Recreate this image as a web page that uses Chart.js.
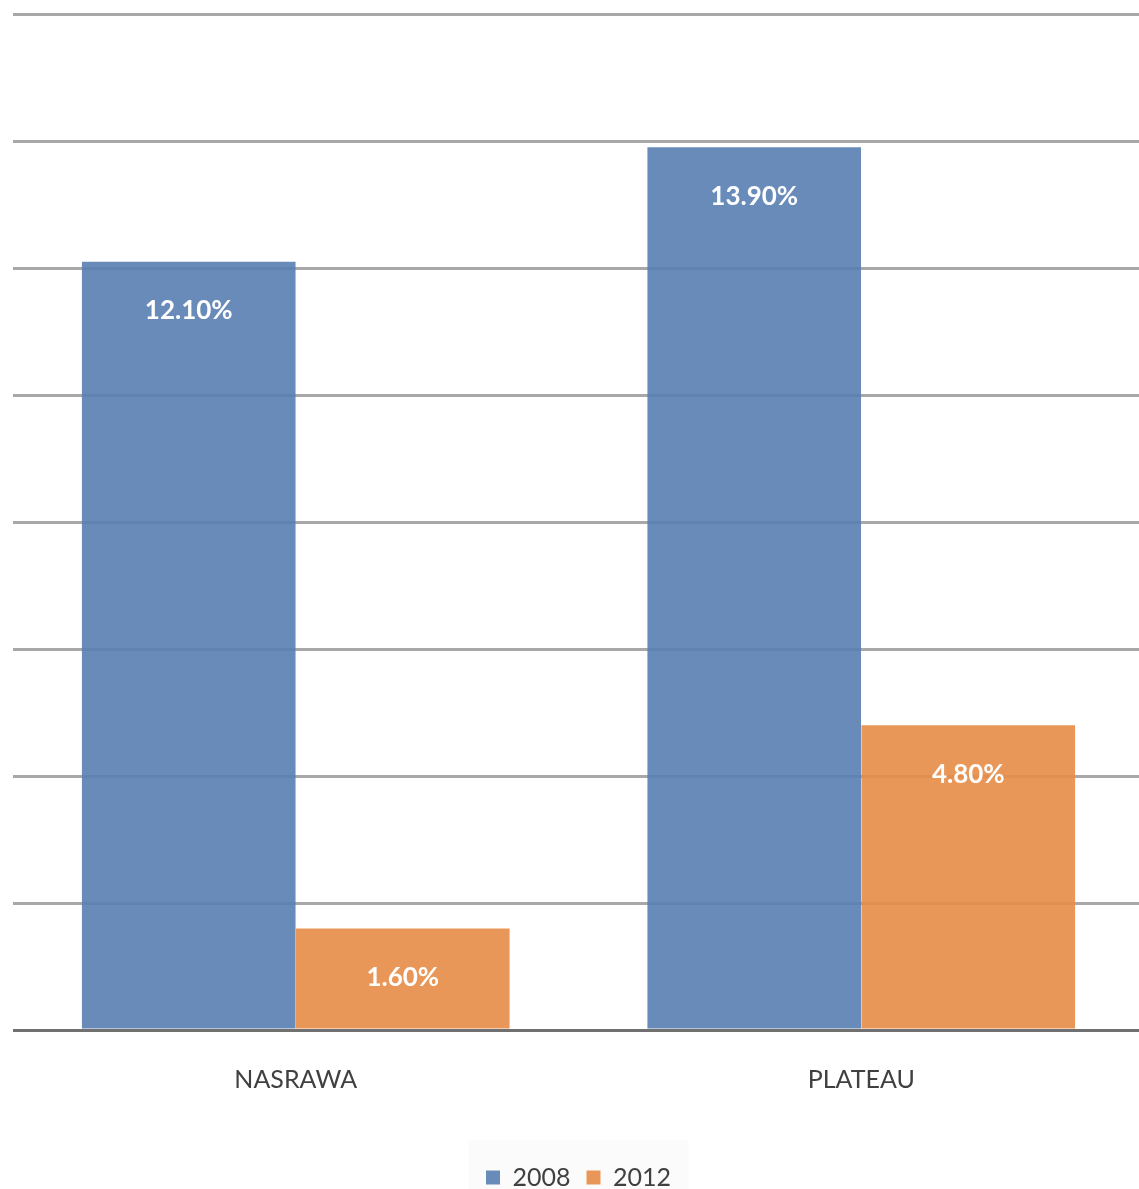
<!DOCTYPE html>
<html>
<head>
<meta charset="utf-8">
<script src="https://cdn.jsdelivr.net/npm/chart.js@4.4.1/dist/chart.umd.min.js"></script>
<style>
html,body{margin:0;padding:0;background:#fff;overflow:hidden;}
#wrap{width:1150px;height:1210px;position:relative;}
</style>
</head>
<body>
<div id="wrap"><canvas id="c" width="1150" height="1210"></canvas></div>
<script>
const categories = ["NASRAWA", "PLATEAU"];
const seriesNames = ["2008", "2012"];
const values2008 = [12.1, 13.9];
const values2012 = [1.6, 4.8];
const yTicks = [0, 2, 4, 6, 8, 10, 12, 14, 16];

const FONT = "Lato, 'Noto Sans', sans-serif";

const labelPlugin = {
  id: 'valueLabels',
  afterDatasetsDraw(chart) {
    const ctx = chart.ctx;
    ctx.save();
    ctx.fillStyle = '#ffffff';
    ctx.font = "bold 26px " + FONT;
    ctx.textAlign = 'center';
    ctx.textBaseline = 'middle';
    chart.data.datasets.forEach((ds, di) => {
      const meta = chart.getDatasetMeta(di);
      meta.data.forEach((el, i) => {
        ctx.fillText(ds.data[i].toFixed(2) + '%', el.x, el.y + 49);
      });
    });
    ctx.restore();
  }
};

const legendBg = {
  id: 'legendBg',
  beforeDraw(chart) {
    const lg = chart.legend;
    if (!lg || !lg.legendHitBoxes.length) return;
    const ctx = chart.ctx;
    ctx.save();
    ctx.fillStyle = '#fbfbfb';
    const hb = lg.legendHitBoxes;
    const cx = (hb[0].left + hb[hb.length-1].left + hb[hb.length-1].width) / 2;
    ctx.fillRect(cx - 110, 1140, 220, 80);
    ctx.restore();
  }
};

new Chart(document.getElementById('c'), {
  type: 'bar',
  data: {
    labels: categories,
    datasets: [
      { label: seriesNames[0], data: values2008, backgroundColor: 'rgba(90,127,179,0.91)', borderWidth: 0, categoryPercentage: 0.757, barPercentage: 0.998 },
      { label: seriesNames[1], data: values2012, backgroundColor: 'rgba(231,141,71,0.91)', borderWidth: 0, categoryPercentage: 0.757, barPercentage: 0.998 }
    ]
  },
  options: {
    responsive: false,
    animation: false,
    layout: { padding: { left: 13, right: 6, top: 14, bottom: 10 } },
    scales: {
      x: {
        grid: { display: false },
        border: { display: false },
        ticks: { color: '#404040', font: { family: FONT, size: 25 }, padding: 27 },
        afterFit(scale) { scale.height = 119; }
      },
      y: {
        min: 0, max: 16,
        afterBuildTicks(scale) { scale.ticks = yTicks.map(v => ({ value: v })); },
        border: { display: false },
        ticks: { display: false },
        grid: {
          drawTicks: false,
          lineWidth: 3,
          color: (c) => (c.tick && c.tick.value === 0) ? '#707070' : '#a8a8a8'
        },
        afterFit(scale) { scale.width = 0; }
      }
    },
    plugins: {
      legend: {
        position: 'bottom',
        labels: { boxWidth: 14, boxHeight: 14, padding: 16, color: '#404040', font: { family: FONT, size: 25 } }
      },
      tooltip: { enabled: false }
    }
  },
  plugins: [legendBg, labelPlugin]
});
</script>
</body>
</html>
